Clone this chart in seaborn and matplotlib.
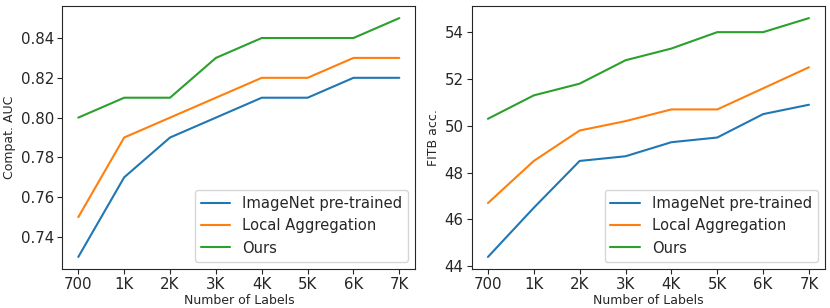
import matplotlib
matplotlib.use("Agg")
import matplotlib.pyplot as plt
import pandas as pd
import seaborn as sns

labels = ["700", "1K", "2K", "3K", "4K", "5K", "6K", "7K"]
methods = ["ImageNet pre-trained", "Local Aggregation", "Ours"]

auc_imagenet = [0.73, 0.77, 0.79, 0.80, 0.81, 0.81, 0.82, 0.82]
auc_local = [0.75, 0.79, 0.80, 0.81, 0.82, 0.82, 0.83, 0.83]
auc_ours = [0.80, 0.81, 0.81, 0.83, 0.84, 0.84, 0.84, 0.85]

fitb_imagenet = [44.4, 46.5, 48.5, 48.7, 49.3, 49.5, 50.5, 50.9]
fitb_local = [46.7, 48.5, 49.8, 50.2, 50.7, 50.7, 51.6, 52.5]
fitb_ours = [50.3, 51.3, 51.8, 52.8, 53.3, 54.0, 54.0, 54.6]


def to_long(series):
    rows = []
    for method, values in zip(methods, series):
        for lab, v in zip(labels, values):
            rows.append({"labels": lab, "value": v, "method": method})
    return pd.DataFrame(rows)


auc_df = to_long([auc_imagenet, auc_local, auc_ours])
fitb_df = to_long([fitb_imagenet, fitb_local, fitb_ours])

sns.set_style("ticks")
plt.rcParams["font.family"] = ["DejaVu Sans"]

palette = ["#1f77b4", "#ff7f0e", "#2ca02c"]

fig, axes = plt.subplots(1, 2, figsize=(8.3, 3.08), dpi=100)

for ax, df, ylabel in [
    (axes[0], auc_df, "Compat. AUC"),
    (axes[1], fitb_df, "FITB acc."),
]:
    sns.lineplot(
        data=df,
        x="labels",
        y="value",
        hue="method",
        palette=palette,
        sort=False,
        linewidth=1.5,
        ax=ax,
    )
    ax.set_xlabel("Number of Labels", fontsize=9, labelpad=1)
    ax.set_ylabel(ylabel, fontsize=9, labelpad=3)
    ax.tick_params(labelsize=10.8, length=3.5, width=0.8, pad=2.5, color=".15")
    for s in ax.spines.values():
        s.set_linewidth(0.8)
        s.set_color(".15")
    sns.move_legend(ax, "lower right", title=None, fontsize=10.6, frameon=True)

axes[1].set_yticks([44, 46, 48, 50, 52, 54])

fig.subplots_adjust(left=0.075, right=0.994, top=0.98, bottom=0.127, wspace=0.16)
fig.savefig("out.png", dpi=100)
plt.close(fig)
